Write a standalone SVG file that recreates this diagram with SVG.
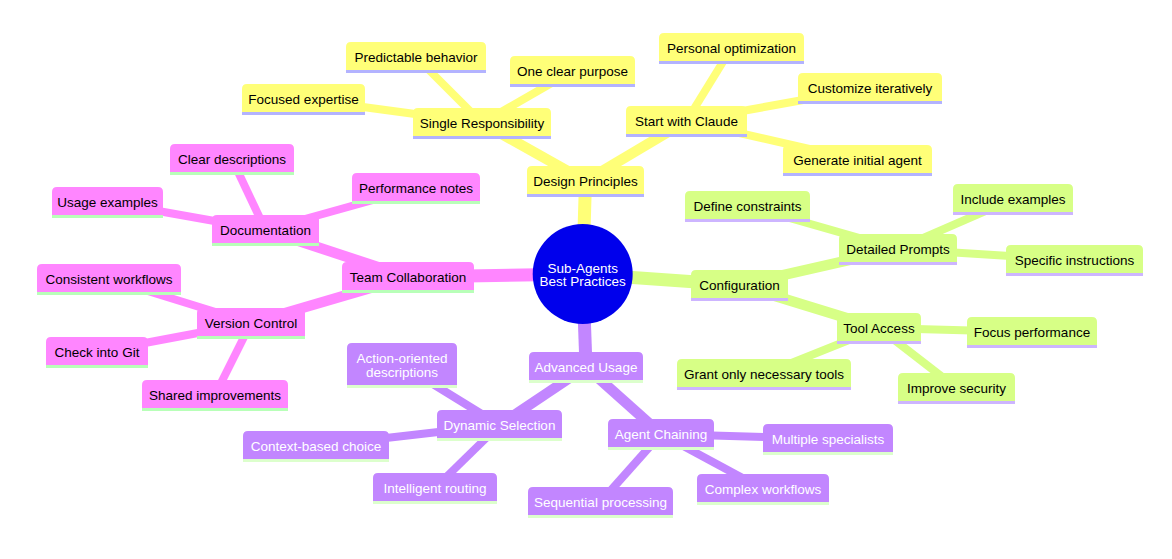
<svg xmlns="http://www.w3.org/2000/svg" width="1172" height="559" viewBox="0 0 1172 559">
<style>
text{font-family:"Liberation Sans",Arial,sans-serif;font-size:13.5px;text-anchor:middle;}
.e0{stroke-width:13;stroke-linecap:butt;fill:none}
.e1{stroke-width:10.5;fill:none}
.e2{stroke-width:8;fill:none}
.cy{stroke:#ffff78}.cp{stroke:#ff86ff}.cg{stroke:#d7ff86}.cv{stroke:#c286ff}
.ny path{fill:#ffff78}.ny line{stroke:#b3b3ff;stroke-width:3}.ny text{fill:#000}
.np path{fill:#ff86ff}.np line{stroke:#b8ffb8;stroke-width:3}.np text{fill:#000}
.ng path{fill:#d7ff86}.ng line{stroke:#cdb5ff;stroke-width:3}.ng text{fill:#000}
.nv path{fill:#c286ff}.nv line{stroke:#dcffcc;stroke-width:3}.nv text{fill:#fff}
</style>
<rect width="1172" height="559" fill="#fff"/>
<g id="connectors">
<line class="e0 cy" x1="582.7" y1="274" x2="585.5" y2="181"/>
<line class="e0 cp" x1="582.7" y1="274" x2="408" y2="277"/>
<line class="e0 cg" x1="582.7" y1="274" x2="739.5" y2="285"/>
<line class="e0 cv" x1="582.7" y1="274" x2="586" y2="367"/>
<line class="e1 cy" x1="585.5" y1="181" x2="482" y2="123"/>
<line class="e1 cy" x1="585.5" y1="181" x2="686.5" y2="121"/>
<line class="e1 cp" x1="408" y1="277" x2="265.5" y2="230"/>
<line class="e1 cp" x1="408" y1="277" x2="251" y2="323"/>
<line class="e1 cg" x1="739.5" y1="285" x2="898" y2="249"/>
<line class="e1 cg" x1="739.5" y1="285" x2="879" y2="328"/>
<line class="e1 cv" x1="586" y1="367" x2="499.5" y2="425"/>
<line class="e1 cv" x1="586" y1="367" x2="661" y2="434"/>
<line class="e2 cy" x1="482" y1="123" x2="416" y2="57"/>
<line class="e2 cy" x1="482" y1="123" x2="572.5" y2="71"/>
<line class="e2 cy" x1="482" y1="123" x2="303.5" y2="99"/>
<line class="e2 cy" x1="686.5" y1="121" x2="731.5" y2="48"/>
<line class="e2 cy" x1="686.5" y1="121" x2="870" y2="88"/>
<line class="e2 cy" x1="686.5" y1="121" x2="857.5" y2="160"/>
<line class="e2 cp" x1="265.5" y1="230" x2="232" y2="159"/>
<line class="e2 cp" x1="265.5" y1="230" x2="107.5" y2="202"/>
<line class="e2 cp" x1="265.5" y1="230" x2="416" y2="188"/>
<line class="e2 cp" x1="251" y1="323" x2="109" y2="279"/>
<line class="e2 cp" x1="251" y1="323" x2="97" y2="352"/>
<line class="e2 cp" x1="251" y1="323" x2="215" y2="395"/>
<line class="e2 cg" x1="898" y1="249" x2="747.5" y2="206"/>
<line class="e2 cg" x1="898" y1="249" x2="1013" y2="199"/>
<line class="e2 cg" x1="898" y1="249" x2="1074.5" y2="260"/>
<line class="e2 cg" x1="879" y1="328" x2="1032" y2="332"/>
<line class="e2 cg" x1="879" y1="328" x2="764" y2="374"/>
<line class="e2 cg" x1="879" y1="328" x2="956.5" y2="388"/>
<line class="e2 cv" x1="499.5" y1="425" x2="402" y2="365"/>
<line class="e2 cv" x1="499.5" y1="425" x2="316" y2="446"/>
<line class="e2 cv" x1="499.5" y1="425" x2="435" y2="488"/>
<line class="e2 cv" x1="661" y1="434" x2="600.5" y2="502"/>
<line class="e2 cv" x1="661" y1="434" x2="828" y2="439"/>
<line class="e2 cv" x1="661" y1="434" x2="763" y2="489"/>
</g>
<g id="root">
<circle cx="582.7" cy="274" r="50" fill="#0000ec"/>
<text x="582.7" y="272.5" fill="#fff">Sub-Agents</text>
<text x="582.7" y="286" fill="#fff">Best Practices</text>
</g>
<g id="design-principles" class="ny" transform="translate(527,166)"><path d="M0 29V5Q0 0 5 0H112Q117 0 117 5V29Z"/><line x1="0" y1="29.5" x2="117" y2="29.5"/><text x="58.5" y="20">Design Principles</text></g>
<g id="single-responsibility" class="ny" transform="translate(413,108)"><path d="M0 29V5Q0 0 5 0H133Q138 0 138 5V29Z"/><line x1="0" y1="29.5" x2="138" y2="29.5"/><text x="69" y="20">Single Responsibility</text></g>
<g id="start-with-claude" class="ny" transform="translate(626,106)"><path d="M0 29V5Q0 0 5 0H116Q121 0 121 5V29Z"/><line x1="0" y1="29.5" x2="121" y2="29.5"/><text x="60.5" y="20">Start with Claude</text></g>
<g id="predictable-behavior" class="ny" transform="translate(346,42)"><path d="M0 29V5Q0 0 5 0H135Q140 0 140 5V29Z"/><line x1="0" y1="29.5" x2="140" y2="29.5"/><text x="70" y="20">Predictable behavior</text></g>
<g id="one-clear-purpose" class="ny" transform="translate(510,56)"><path d="M0 29V5Q0 0 5 0H120Q125 0 125 5V29Z"/><line x1="0" y1="29.5" x2="125" y2="29.5"/><text x="62.5" y="20">One clear purpose</text></g>
<g id="focused-expertise" class="ny" transform="translate(242,84)"><path d="M0 29V5Q0 0 5 0H118Q123 0 123 5V29Z"/><line x1="0" y1="29.5" x2="123" y2="29.5"/><text x="61.5" y="20">Focused expertise</text></g>
<g id="personal-optimization" class="ny" transform="translate(659,33)"><path d="M0 29V5Q0 0 5 0H140Q145 0 145 5V29Z"/><line x1="0" y1="29.5" x2="145" y2="29.5"/><text x="72.5" y="20">Personal optimization</text></g>
<g id="customize-iteratively" class="ny" transform="translate(798,73)"><path d="M0 29V5Q0 0 5 0H139Q144 0 144 5V29Z"/><line x1="0" y1="29.5" x2="144" y2="29.5"/><text x="72" y="20">Customize iteratively</text></g>
<g id="generate-initial-agent" class="ny" transform="translate(783,145)"><path d="M0 29V5Q0 0 5 0H144Q149 0 149 5V29Z"/><line x1="0" y1="29.5" x2="149" y2="29.5"/><text x="74.5" y="20">Generate initial agent</text></g>
<g id="team-collaboration" class="np" transform="translate(342,262)"><path d="M0 29V5Q0 0 5 0H127Q132 0 132 5V29Z"/><line x1="0" y1="29.5" x2="132" y2="29.5"/><text x="66" y="20">Team Collaboration</text></g>
<g id="documentation" class="np" transform="translate(212,215)"><path d="M0 29V5Q0 0 5 0H102Q107 0 107 5V29Z"/><line x1="0" y1="29.5" x2="107" y2="29.5"/><text x="53.5" y="20">Documentation</text></g>
<g id="version-control" class="np" transform="translate(197,308)"><path d="M0 29V5Q0 0 5 0H103Q108 0 108 5V29Z"/><line x1="0" y1="29.5" x2="108" y2="29.5"/><text x="54" y="20">Version Control</text></g>
<g id="clear-descriptions" class="np" transform="translate(170,144)"><path d="M0 29V5Q0 0 5 0H119Q124 0 124 5V29Z"/><line x1="0" y1="29.5" x2="124" y2="29.5"/><text x="62" y="20">Clear descriptions</text></g>
<g id="usage-examples" class="np" transform="translate(52,187)"><path d="M0 29V5Q0 0 5 0H106Q111 0 111 5V29Z"/><line x1="0" y1="29.5" x2="111" y2="29.5"/><text x="55.5" y="20">Usage examples</text></g>
<g id="performance-notes" class="np" transform="translate(352,173)"><path d="M0 29V5Q0 0 5 0H123Q128 0 128 5V29Z"/><line x1="0" y1="29.5" x2="128" y2="29.5"/><text x="64" y="20">Performance notes</text></g>
<g id="consistent-workflows" class="np" transform="translate(37,264)"><path d="M0 29V5Q0 0 5 0H139Q144 0 144 5V29Z"/><line x1="0" y1="29.5" x2="144" y2="29.5"/><text x="72" y="20">Consistent workflows</text></g>
<g id="check-into-git" class="np" transform="translate(46,337)"><path d="M0 29V5Q0 0 5 0H97Q102 0 102 5V29Z"/><line x1="0" y1="29.5" x2="102" y2="29.5"/><text x="51" y="20">Check into Git</text></g>
<g id="shared-improvements" class="np" transform="translate(142,380)"><path d="M0 29V5Q0 0 5 0H141Q146 0 146 5V29Z"/><line x1="0" y1="29.5" x2="146" y2="29.5"/><text x="73" y="20">Shared improvements</text></g>
<g id="configuration" class="ng" transform="translate(691,270)"><path d="M0 29V5Q0 0 5 0H92Q97 0 97 5V29Z"/><line x1="0" y1="29.5" x2="97" y2="29.5"/><text x="48.5" y="20">Configuration</text></g>
<g id="detailed-prompts" class="ng" transform="translate(839,234)"><path d="M0 29V5Q0 0 5 0H113Q118 0 118 5V29Z"/><line x1="0" y1="29.5" x2="118" y2="29.5"/><text x="59" y="20">Detailed Prompts</text></g>
<g id="tool-access" class="ng" transform="translate(837,313)"><path d="M0 29V5Q0 0 5 0H79Q84 0 84 5V29Z"/><line x1="0" y1="29.5" x2="84" y2="29.5"/><text x="42" y="20">Tool Access</text></g>
<g id="define-constraints" class="ng" transform="translate(685,191)"><path d="M0 29V5Q0 0 5 0H120Q125 0 125 5V29Z"/><line x1="0" y1="29.5" x2="125" y2="29.5"/><text x="62.5" y="20">Define constraints</text></g>
<g id="include-examples" class="ng" transform="translate(953,184)"><path d="M0 29V5Q0 0 5 0H115Q120 0 120 5V29Z"/><line x1="0" y1="29.5" x2="120" y2="29.5"/><text x="60" y="20">Include examples</text></g>
<g id="specific-instructions" class="ng" transform="translate(1006,245)"><path d="M0 29V5Q0 0 5 0H132Q137 0 137 5V29Z"/><line x1="0" y1="29.5" x2="137" y2="29.5"/><text x="68.5" y="20">Specific instructions</text></g>
<g id="focus-performance" class="ng" transform="translate(967,317)"><path d="M0 29V5Q0 0 5 0H125Q130 0 130 5V29Z"/><line x1="0" y1="29.5" x2="130" y2="29.5"/><text x="65" y="20">Focus performance</text></g>
<g id="grant-only-necessary-tools" class="ng" transform="translate(677,359)"><path d="M0 29V5Q0 0 5 0H169Q174 0 174 5V29Z"/><line x1="0" y1="29.5" x2="174" y2="29.5"/><text x="87" y="20">Grant only necessary tools</text></g>
<g id="improve-security" class="ng" transform="translate(898,373)"><path d="M0 29V5Q0 0 5 0H112Q117 0 117 5V29Z"/><line x1="0" y1="29.5" x2="117" y2="29.5"/><text x="58.5" y="20">Improve security</text></g>
<g id="advanced-usage" class="nv" transform="translate(529,352)"><path d="M0 29V5Q0 0 5 0H109Q114 0 114 5V29Z"/><line x1="0" y1="29.5" x2="114" y2="29.5"/><text x="57" y="20">Advanced Usage</text></g>
<g id="dynamic-selection" class="nv" transform="translate(437,410)"><path d="M0 29V5Q0 0 5 0H120Q125 0 125 5V29Z"/><line x1="0" y1="29.5" x2="125" y2="29.5"/><text x="62.5" y="20">Dynamic Selection</text></g>
<g id="agent-chaining" class="nv" transform="translate(608,419)"><path d="M0 29V5Q0 0 5 0H101Q106 0 106 5V29Z"/><line x1="0" y1="29.5" x2="106" y2="29.5"/><text x="53" y="20">Agent Chaining</text></g>
<g id="action-oriented-descriptions" class="nv" transform="translate(347,343)"><path d="M0 43V5Q0 0 5 0H105Q110 0 110 5V43Z"/><line x1="0" y1="43.5" x2="110" y2="43.5"/><text x="55" y="19.5">Action-oriented</text><text x="55" y="33.5">descriptions</text></g>
<g id="context-based-choice" class="nv" transform="translate(243,431)"><path d="M0 29V5Q0 0 5 0H141Q146 0 146 5V29Z"/><line x1="0" y1="29.5" x2="146" y2="29.5"/><text x="73" y="20">Context-based choice</text></g>
<g id="intelligent-routing" class="nv" transform="translate(373,473)"><path d="M0 29V5Q0 0 5 0H119Q124 0 124 5V29Z"/><line x1="0" y1="29.5" x2="124" y2="29.5"/><text x="62" y="20">Intelligent routing</text></g>
<g id="sequential-processing" class="nv" transform="translate(528,487)"><path d="M0 29V5Q0 0 5 0H140Q145 0 145 5V29Z"/><line x1="0" y1="29.5" x2="145" y2="29.5"/><text x="72.5" y="20">Sequential processing</text></g>
<g id="multiple-specialists" class="nv" transform="translate(763,424)"><path d="M0 29V5Q0 0 5 0H125Q130 0 130 5V29Z"/><line x1="0" y1="29.5" x2="130" y2="29.5"/><text x="65" y="20">Multiple specialists</text></g>
<g id="complex-workflows" class="nv" transform="translate(697,474)"><path d="M0 29V5Q0 0 5 0H127Q132 0 132 5V29Z"/><line x1="0" y1="29.5" x2="132" y2="29.5"/><text x="66" y="20">Complex workflows</text></g>
</svg>
